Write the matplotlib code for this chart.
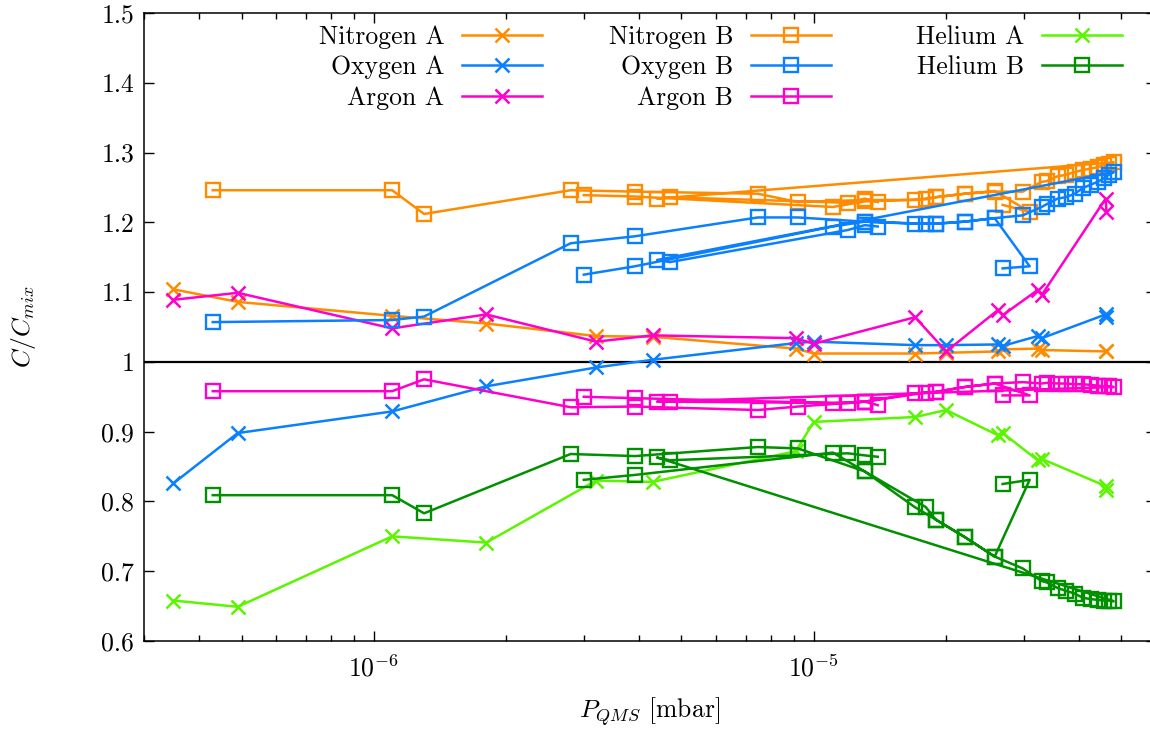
import numpy as np
import matplotlib
matplotlib.use("Agg")
import matplotlib.pyplot as plt
from matplotlib.ticker import FuncFormatter

plt.rcParams['font.family'] = 'cmr10'
plt.rcParams['mathtext.fontset'] = 'cm'
plt.rcParams['axes.formatter.use_mathtext'] = True
plt.rcParams['font.size'] = 18.5

# method A (crosses), pressures in mbar
p_a = [3.5e-7, 4.9e-7, 1.1e-6, 1.8e-6, 3.2e-6, 4.3e-6, 9.1e-6, 1.0e-5,
       1.7e-5, 2.0e-5, 2.62e-5, 2.69e-5, 3.23e-5, 3.30e-5, 4.61e-5, 4.63e-5]
n2_a = [1.104, 1.086, 1.066, 1.055, 1.037, 1.036, 1.019, 1.012,
        1.012, 1.013, 1.015, 1.018, 1.019, 1.017, 1.015, 1.016]
o2_a = [0.826, 0.898, 0.929, 0.965, 0.992, 1.003, 1.027, 1.029,
        1.024, 1.024, 1.025, 1.023, 1.037, 1.034, 1.068, 1.064]
ar_a = [1.089, 1.099, 1.048, 1.068, 1.029, 1.038, 1.034, 1.026,
        1.064, 1.015, 1.074, 1.067, 1.103, 1.096, 1.234, 1.215]
he_a = [0.658, 0.649, 0.750, 0.741, 0.830, 0.828, 0.872, 0.914,
        0.921, 0.931, 0.895, 0.898, 0.859, 0.861, 0.822, 0.817]

# method B (squares), two runs in file order
p_b1 = [4.3e-7, 1.1e-6, 1.3e-6, 2.8e-6, 3.92e-6, 7.46e-6, 9.2e-6, 1.306e-5,
        1.696e-5, 1.894e-5, 2.204e-5, 2.578e-5, 3.097e-5, 2.688e-5]
n2_b1 = [1.246, 1.246, 1.212, 1.246, 1.244, 1.241, 1.229, 1.232,
         1.232, 1.236, 1.241, 1.245, 1.215, 1.225]
o2_b1 = [1.057, 1.060, 1.065, 1.170, 1.180, 1.207, 1.207, 1.201,
         1.198, 1.198, 1.201, 1.206, 1.137, 1.134]
ar_b1 = [0.958, 0.958, 0.975, 0.935, 0.936, 0.931, 0.936, 0.943,
         0.955, 0.957, 0.964, 0.969, 0.952, 0.952]
he_b1 = [0.809, 0.809, 0.783, 0.868, 0.865, 0.878, 0.876, 0.843,
         0.792, 0.774, 0.749, 0.721, 0.831, 0.825]

p_b2 = [3.0e-6, 3.92e-6, 1.105e-5, 1.306e-5, 1.797e-5, 1.894e-5, 2.204e-5, 2.578e-5,
        2.985e-5, 3.297e-5, 3.384e-5, 3.585e-5, 3.739e-5, 3.92e-5, 4.088e-5, 4.262e-5,
        4.421e-5, 4.562e-5, 4.683e-5, 4.807e-5, 4.4e-6, 4.71e-6, 1.195e-5, 1.306e-5,
        1.398e-5]
n2_b2 = [1.239, 1.237, 1.222, 1.230, 1.233, 1.236, 1.241, 1.244,
         1.244, 1.258, 1.259, 1.266, 1.268, 1.272, 1.275, 1.277,
         1.279, 1.282, 1.284, 1.286, 1.234, 1.236, 1.228, 1.234,
         1.229]
o2_b2 = [1.125, 1.137, 1.194, 1.201, 1.198, 1.198, 1.201, 1.206,
         1.210, 1.222, 1.226, 1.234, 1.236, 1.241, 1.249, 1.254,
         1.258, 1.263, 1.268, 1.272, 1.146, 1.143, 1.189, 1.196,
         1.194]
ar_b2 = [0.950, 0.948, 0.941, 0.943, 0.956, 0.957, 0.964, 0.969,
         0.971, 0.969, 0.970, 0.969, 0.969, 0.968, 0.968, 0.967,
         0.966, 0.965, 0.965, 0.964, 0.943, 0.943, 0.941, 0.943,
         0.938]
he_b2 = [0.831, 0.838, 0.870, 0.843, 0.792, 0.774, 0.749, 0.721,
         0.704, 0.686, 0.684, 0.676, 0.672, 0.668, 0.662, 0.660,
         0.659, 0.658, 0.658, 0.657, 0.863, 0.859, 0.869, 0.866,
         0.864]

c_n2 = '#ff8c00'
c_o2 = '#0a80ff'
c_ar = '#ff00cc'
c_he_a = '#5cf500'
c_he_b = '#009000'


def runs(r1, r2):
    # blank line between runs -> break in the line
    return np.concatenate([r1, [np.nan], r2])


fig = plt.figure(figsize=(11.5, 7.31), dpi=100)
ax = fig.add_axes([144 / 1150, 90 / 731, 1012 / 1150, 628 / 731])

ax.axhline(1, color='black', lw=1.6, zorder=1)

lw = 1.8
kw_x = dict(marker='x', ms=10.5, mew=1.8, lw=lw)
kw_s = dict(marker='s', ms=10, mew=1.7, lw=lw, mfc='none')

pb = runs(p_b1, p_b2)
h_n2a, = ax.plot(p_a, n2_a, color=c_n2, label='Nitrogen A', **kw_x)
h_o2a, = ax.plot(p_a, o2_a, color=c_o2, label='Oxygen A', **kw_x)
h_ara, = ax.plot(p_a, ar_a, color=c_ar, label='Argon A', **kw_x)
h_n2b, = ax.plot(pb, runs(n2_b1, n2_b2), color=c_n2, label='Nitrogen B', **kw_s)
h_o2b, = ax.plot(pb, runs(o2_b1, o2_b2), color=c_o2, label='Oxygen B', **kw_s)
h_arb, = ax.plot(pb, runs(ar_b1, ar_b2), color=c_ar, label='Argon B', **kw_s)
h_hea, = ax.plot(p_a, he_a, color=c_he_a, label='Helium A', **kw_x)
h_heb, = ax.plot(pb, runs(he_b1, he_b2), color=c_he_b, label='Helium B', **kw_s)

ax.set_xscale('log')
ax.set_xlim(3e-7, 6e-5)
ax.set_ylim(0.6, 1.5)
ax.set_yticks(np.arange(0.6, 1.501, 0.1))
ax.yaxis.set_major_formatter(FuncFormatter(lambda v, _: '%g' % round(v, 2)))
ax.tick_params(which='both', direction='in', top=True, right=True, width=1.0)
ax.tick_params(which='major', length=7, pad=7)
ax.tick_params(axis='x', which='major', pad=10)
ax.tick_params(which='minor', length=4)
for s in ax.spines.values():
    s.set_linewidth(1.1)

ax.set_xlabel(r'$P_{QMS}$ [mbar]', labelpad=10)
ax.set_ylabel(r'$C/C_{mix}$', labelpad=46)

cols = [([h_n2a, h_o2a, h_ara], 542), ([h_n2b, h_o2b, h_arb], 831), ([h_hea, h_heb], 1122)]
for i, (hs, xr) in enumerate(cols):
    leg = ax.legend(handles=hs, loc='upper right', bbox_to_anchor=(xr / 1150, 1 - 25 / 731),
                    bbox_transform=fig.transFigure, frameon=False, markerfirst=False,
                    numpoints=1, handlelength=3.1, handletextpad=0.7, labelspacing=0.26,
                    borderpad=0, borderaxespad=0)
    if i < len(cols) - 1:
        ax.add_artist(leg)

fig.savefig('out.png', dpi=100)
